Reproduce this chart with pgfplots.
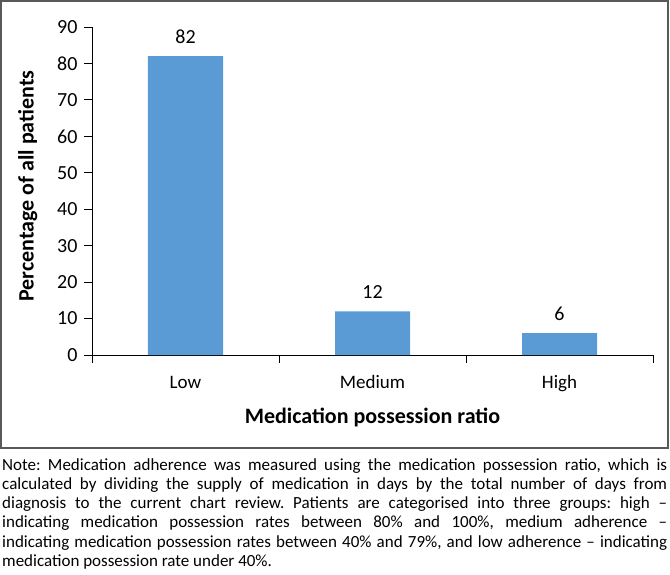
\documentclass[border=0pt]{standalone}
\usepackage{pgfplots}
\pgfplotsset{compat=1.18}
\usepackage{fontspec}
\setmainfont{Carlito}
\definecolor{barblue}{HTML}{5B9BD5}
\begin{document}
\frenchspacing
\begin{tikzpicture}[x=1pt,y=1pt]
\useasboundingbox (0,0) rectangle (670,-574);
\draw[color=black!65, line width=1.1pt] (1,-1) rectangle (668,-448);
\begin{axis}[
  at={(92pt,-355pt)}, anchor=south west,
  scale only axis, width=561pt, height=328pt,
  xmin=-0.5, xmax=2.5, ymin=0, ymax=90,
  axis x line*=bottom, axis y line*=left,
  axis line style={-, black, line width=0.9pt},
  tick style={black, line width=0.9pt},
  tick align=outside, major tick length=8pt,
  ytick={0,10,...,90},
  xtick={-0.5,0.5,1.5,2.5}, xticklabels={},
  extra x ticks={0,1,2}, extra x tick labels={Low,Medium,High},
  extra x tick style={major tick length=0pt},
  ticklabel style={font=\fontsize{20}{23}\selectfont},
  yticklabel style={xshift=-3pt},
  /pgf/number format/assume math mode=true,
  xticklabel style={anchor=base, yshift=-33pt, font=\fontsize{19}{22}\selectfont},
  xlabel={\textbf{Medication possession ratio}},
  xlabel style={font=\fontsize{22}{26}\selectfont, at={(axis description cs:0.5,-0.192)}, anchor=center},
  ylabel={\textbf{Percentage of all patients}},
  ylabel style={font=\fontsize{22}{26}\selectfont, at={(axis description cs:-0.1143,0.515)}, anchor=center},
  nodes near coords,
  every node near coord/.append style={font=\fontsize{20}{23}\selectfont, yshift=9pt},
  clip=false,
]
\addplot[ybar, bar width=75pt, fill=barblue, draw=none] coordinates {(0,82) (1,12) (2,6)};
\end{axis}
\node[anchor=north west, text width=665pt, inner sep=0pt, align=justify, font=\fontsize{17}{19.3}\selectfont] at (2,-458) {Note: Medication adherence was measured using the medication possession ratio, which is\linebreak
calculated by dividing the supply of medication in days by the total number of days from\linebreak
diagnosis to the current chart review. Patients are categorised into three groups: high --\linebreak
indicating medication possession rates between 80\% and 100\%, medium adherence --\linebreak
indicating medication possession rates between 40\% and 79\%, and low adherence -- indicating\linebreak
medication possession rate under 40\%.};
\end{tikzpicture}
\end{document}
